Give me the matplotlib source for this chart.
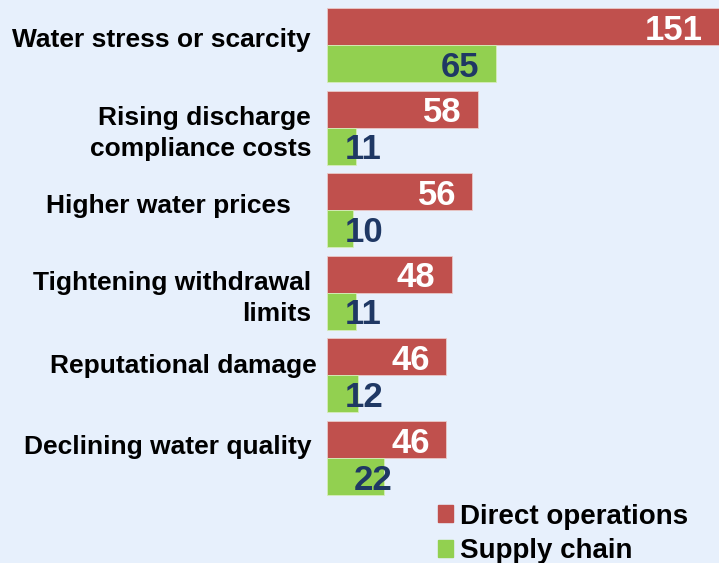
import matplotlib
matplotlib.use("Agg")
import matplotlib.pyplot as plt
import matplotlib.patches as mpatches
import numpy as np

categories = [
    "Water stress or scarcity",
    "Rising discharge\ncompliance costs",
    "Higher water prices",
    "Tightening withdrawal\nlimits",
    "Reputational damage",
    "Declining water quality",
]
direct_ops = [151, 58, 56, 48, 46, 46]
supply_chain = [65, 11, 10, 11, 12, 22]
series_names = ["Direct operations", "Supply chain"]

# label placement tweaks (right edge in fig px, vertical shift in group units)
label_right_px = [311, 311, 291, 311, 317, 311]
label_shift = [-0.06, 0.07, -0.05, 0.07, -0.12, -0.14]

BG = "#E7F0FC"
RED = "#C0504D"
GREEN = "#92D050"
NAVY = "#1F3864"
W, H = 719, 563

plt.rcParams["font.family"] = ["Liberation Sans", "DejaVu Sans"]
plt.rcParams["font.weight"] = "bold"

fig = plt.figure(figsize=(W / 100, H / 100), dpi=100, facecolor=BG)
left = 327 / W
ax = fig.add_axes([left, 0, 1 - left, 1])
ax.set_facecolor(BG)

y = np.arange(len(categories))
bh = 0.448
ax.barh(y - bh / 2, direct_ops, height=bh, color=RED, edgecolor="#E9C9C8", linewidth=0.6)
ax.barh(y + bh / 2, supply_chain, height=bh, color=GREEN, edgecolor="#D6EDBA", linewidth=0.6)

ax.set_xlim(0, 151)
ax.set_ylim(6.27, -0.545)
ax.axis("off")

for i, v in enumerate(direct_ops):
    ax.text(v - 6.3, y[i] - bh / 2, str(v), ha="right", va="center_baseline",
            fontsize=25, color="white", fontweight="bold")
for i, v in enumerate(supply_chain):
    if v < 15:
        ax.text(6.9, y[i] + bh / 2, str(v), ha="left", va="center_baseline",
                fontsize=25, color=NAVY, fontweight="bold")
    else:
        ax.text(max(v - 6.3, 25.4), y[i] + bh / 2, str(v), ha="right",
                va="center_baseline", fontsize=25, color=NAVY, fontweight="bold")

# category labels
for i, lab in enumerate(categories):
    fx = label_right_px[i] / W
    yd = y[i] + label_shift[i]
    _, yf = fig.transFigure.inverted().transform(ax.transData.transform((0, yd)))
    fig.text(fx, yf, lab, ha="right", va="center", fontsize=19,
             fontweight="bold", color="black", linespacing=1.36)

# legend
handles = [mpatches.Patch(color=RED, label=series_names[0]),
           mpatches.Patch(color=GREEN, label=series_names[1])]
fig.legend(handles=handles, loc="lower left", bbox_to_anchor=(427 / W, -0.022),
           frameon=False, fontsize=20, handlelength=0.55, handleheight=0.55,
           handletextpad=0.25, labelspacing=0.31, borderaxespad=0)

fig.savefig("out.png", dpi=100, facecolor=BG)
